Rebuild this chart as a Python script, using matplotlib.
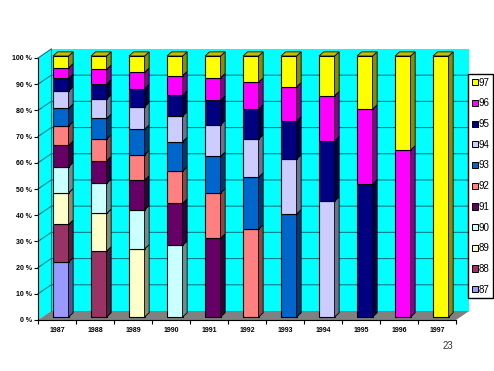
import matplotlib
matplotlib.use('Agg')
import matplotlib.pyplot as plt
import matplotlib.colors as mcolors
from matplotlib.patches import Polygon, Patch

years = ['1987', '1988', '1989', '1990', '1991', '1992', '1993', '1994', '1995', '1996', '1997']
series = ['87', '88', '89', '90', '91', '92', '93', '94', '95', '96', '97']
colors = ['#9999FF', '#993366', '#FFFFCC', '#CCFFFF', '#660066', '#FF8080',
          '#0066CC', '#CCCCFF', '#000080', '#FF00FF', '#FFFF00']

# top of each stacked segment, one list per year (oldest series first)
tops_1987 = [21.1, 35.5, 47.6, 57.6, 65.8, 73.2, 80.0, 86.6, 91.5, 95.5, 100]
tops_1988 = [25.3, 39.7, 51.2, 59.9, 68.2, 76.1, 83.5, 89.3, 94.9, 100]
tops_1989 = [26.1, 41.1, 52.5, 62.2, 72.0, 80.6, 87.5, 93.8, 100]
tops_1990 = [27.5, 43.6, 55.9, 67.2, 77.0, 85.0, 92.5, 100]
tops_1991 = [30.2, 47.6, 61.6, 73.7, 83.1, 91.7, 100]
tops_1992 = [33.7, 53.6, 68.2, 79.7, 90.0, 100]
tops_1993 = [39.5, 60.5, 75.1, 88.2, 100]
tops_1994 = [44.4, 67.5, 84.8, 100]
tops_1995 = [51.0, 79.7, 100]
tops_1996 = [64.0, 100]
tops_1997 = [100]
all_tops = [tops_1987, tops_1988, tops_1989, tops_1990, tops_1991, tops_1992,
            tops_1993, tops_1994, tops_1995, tops_1996, tops_1997]

W, H = 494, 371
plt.rcParams['font.family'] = ['Liberation Sans', 'DejaVu Sans']
fig = plt.figure(figsize=(W / 100, H / 100), dpi=100)
ax = fig.add_axes([38 / W, 1 - 320 / H, 418 / W, 262 / H])
ax.set_xlim(0, 11)
ax.set_ylim(0, 100)
ax.patch.set_visible(False)

# fake 3d offsets, in data units
wall_dx, wall_dy = 0.35, 3.45
bar_dx, bar_dy = 0.12, 1.6
lift = 1.15
bar_shift, bar_w = 0.10, 0.41


def poly(pts, color, edge='none', lw=0.0, z=1):
    ax.add_patch(Polygon(pts, closed=True, facecolor=color, edgecolor=edge,
                         linewidth=lw, clip_on=False, zorder=z))


def darker(c, f=0.55):
    r, g, b = mcolors.to_rgb(c)
    return (r * f, g * f, b * f)


# walls and floor
poly([(0, 0), (wall_dx, wall_dy), (wall_dx, 100 + wall_dy), (0, 100)], '#00FFFF', z=1)
poly([(wall_dx, wall_dy), (11 + wall_dx, wall_dy), (11 + wall_dx, 100 + wall_dy),
      (wall_dx, 100 + wall_dy)], '#00FFFF', z=1)
poly([(0, 0), (wall_dx, wall_dy), (11 + wall_dx, wall_dy), (11, 0)], '#808080', z=1)

for v in range(10, 100, 10):
    ax.plot([0, wall_dx, 11 + wall_dx], [v, v + wall_dy, v + wall_dy], color='#007F86',
            lw=0.8, clip_on=False, zorder=2)
ax.plot([0, wall_dx], [100, 100 + wall_dy], color='#007F86', lw=0.8, clip_on=False, zorder=2)
ax.plot([wall_dx, wall_dx], [wall_dy, 100 + wall_dy], color='#007F86', lw=0.8, zorder=2, clip_on=False)

# bars
for i, tops in enumerate(all_tops):
    x0 = i + 0.5 + bar_shift - bar_w / 2
    x1 = x0 + bar_w
    first = len(series) - len(tops)
    low = 0
    for j, top in enumerate(tops):
        c = colors[first + j]
        y0, y1 = low + lift, top * 0.996 + lift
        ax.bar(x0, y1 - y0, width=bar_w, bottom=y0, align='edge', color=c,
               edgecolor='black', linewidth=0.8, zorder=3, clip_on=False)
        poly([(x1, y0), (x1 + bar_dx, y0 + bar_dy), (x1 + bar_dx, y1 + bar_dy), (x1, y1)],
             darker(c), edge='black', lw=0.6, z=3)
        low = top * 0.996
    c = colors[-1]
    poly([(x0, low + lift), (x0 + bar_dx, low + lift + bar_dy),
          (x1 + bar_dx, low + lift + bar_dy), (x1, low + lift)],
         darker(c, 0.75), edge='black', lw=0.6, z=3)

# axes
for s in ['top', 'right']:
    ax.spines[s].set_visible(False)
for s in ['left', 'bottom']:
    ax.spines[s].set_linewidth(0.8)
    ax.spines[s].set_zorder(4)
ax.set_yticks(range(0, 101, 10))
ax.set_yticklabels([f'{v} %' for v in range(0, 101, 10)], fontsize=5, fontweight='bold')
ax.set_xticks(range(0, 12))
ax.set_xticklabels([''] * 12)
for i, y in enumerate(years):
    ax.annotate(y, (i + 0.5, 0), xytext=(0, -10.5), textcoords='offset pixels', ha='center',
                va='center', fontsize=5, fontweight='bold', annotation_clip=False)
ax.tick_params(axis='both', length=3, width=0.8, pad=1.5)

# legend, newest first
handles = [Patch(facecolor=colors[k], edgecolor='black', linewidth=0.7, label=series[k])
           for k in range(len(series) - 1, -1, -1)]
fig.legend(handles=handles, loc='upper left', bbox_to_anchor=(468 / W, 1 - 74 / H),
           bbox_transform=fig.transFigure, ncol=1, fontsize=7, frameon=True, fancybox=False,
           edgecolor='black', framealpha=1, borderaxespad=0, borderpad=0.38, labelspacing=1.10,
           handlelength=0.6, handleheight=0.6, handletextpad=0.1)

fig.text(443 / W, 1 - 346 / H, '23', fontsize=7, ha='left', va='center', color='#333333')

fig.savefig('out.png', dpi=100, facecolor='white')
